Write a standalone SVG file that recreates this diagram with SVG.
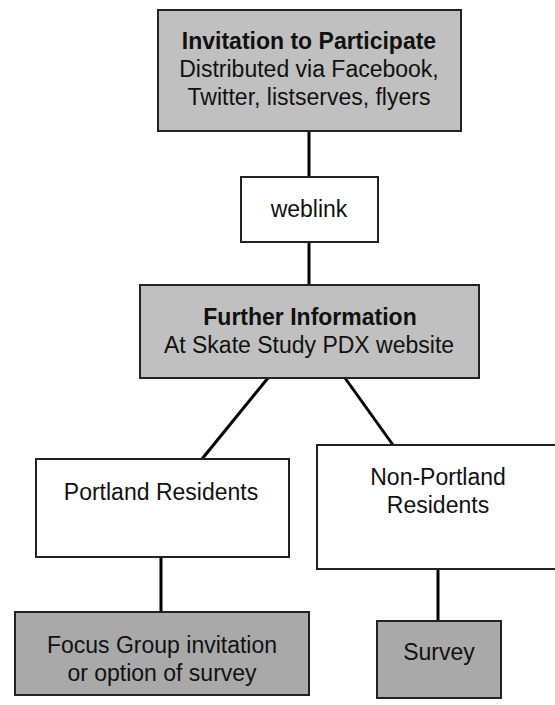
<svg xmlns="http://www.w3.org/2000/svg" width="555" height="705" viewBox="0 0 555 705">
<style>
.box{stroke:#222;stroke-width:2}
.light{fill:#c0c0c0}
.white{fill:#ffffff}
.dark{fill:#a9a9a9}
text{font-family:"Liberation Sans",Arial,sans-serif;font-size:23px;fill:#111;text-anchor:middle}
.b{font-weight:bold}
.conn line{stroke:#000;stroke-width:3}
</style>
<rect width="555" height="705" fill="#fff"/>
<g class="conn" id="connectors">
<line x1="309" y1="131" x2="309" y2="177"/>
<line x1="309" y1="242" x2="309" y2="285"/>
<line x1="268" y1="378" x2="202" y2="459"/>
<line x1="345" y1="378" x2="393" y2="445"/>
<line x1="161" y1="557" x2="161" y2="612"/>
<line x1="438" y1="569" x2="438" y2="621"/>
</g>
<g id="invitation">
<rect class="box light" x="158" y="10" width="303" height="121"/>
<text class="b" x="309" y="49">Invitation to Participate</text>
<text x="309" y="77">Distributed via Facebook,</text>
<text x="309" y="105">Twitter, listserves, flyers</text>
</g>
<g id="weblink">
<rect class="box white" x="241" y="177" width="137" height="65"/>
<text x="309" y="217">weblink</text>
</g>
<g id="further">
<rect class="box light" x="140" y="285" width="339" height="93"/>
<text class="b" x="310" y="325">Further Information</text>
<text x="309" y="353">At Skate Study PDX website</text>
</g>
<g id="portland">
<rect class="box white" x="36" y="459" width="253" height="98"/>
<text x="161" y="500">Portland Residents</text>
</g>
<g id="nonportland">
<rect class="box white" x="317" y="445" width="245" height="124"/>
<text x="438" y="485">Non-Portland</text>
<text x="438" y="513">Residents</text>
</g>
<g id="focus">
<rect class="box dark" x="15" y="612" width="294" height="83"/>
<text x="162" y="653">Focus Group invitation</text>
<text x="162" y="681">or option of survey</text>
</g>
<g id="survey">
<rect class="box dark" x="377" y="621" width="124" height="77"/>
<text x="439" y="660">Survey</text>
</g>
</svg>
